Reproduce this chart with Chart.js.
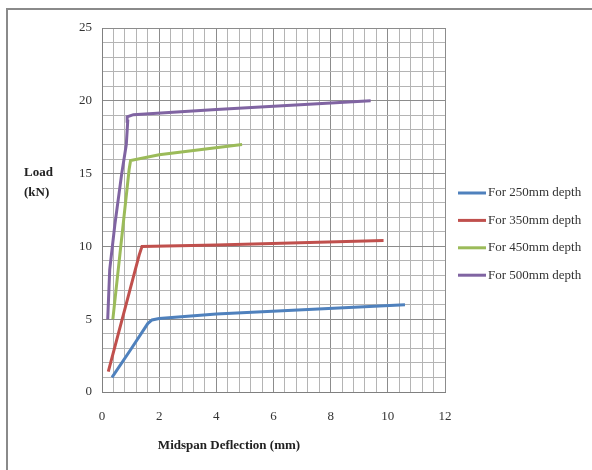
<!DOCTYPE html>
<html>
<head>
<meta charset="utf-8">
<script src="https://cdn.jsdelivr.net/npm/chart.js@4.4.0/dist/chart.umd.min.js"></script>
<style>
  html, body { margin: 0; padding: 0; background: #fff; }
  .container { width: 592px; height: 470px; position: relative; }
  canvas { display: block; }
</style>
</head>
<body>
<div class="container"><canvas id="chart" width="592" height="470"></canvas></div>
<script>
// series (x = midspan deflection mm, y = load kN)
const seriesLabels = ['For 250mm depth', 'For 350mm depth', 'For 450mm depth', 'For 500mm depth'];
const seriesColors = ['#4F81BD', '#C0504D', '#9BBB59', '#8064A2'];

const d250X = [0.35, 1.0, 1.6, 1.75, 2.0, 4.0, 10.6];
const d250Y = [1.0, 2.9, 4.7, 4.95, 5.05, 5.35, 6.0];

const d350X = [0.22, 1.3, 1.4, 4.0, 9.85];
const d350Y = [1.4, 9.4, 10.0, 10.1, 10.4];

const d450X = [0.38, 0.95, 1.0, 2.0, 4.9];
const d450Y = [5.0, 15.3, 15.9, 16.3, 17.0];

const d500X = [0.2, 0.27, 0.45, 0.69, 0.85, 0.9, 0.88, 1.1, 4.0, 9.4];
const d500Y = [5.0, 8.4, 11.5, 15.0, 17.0, 18.6, 18.9, 19.05, 19.4, 20.0];

const xTickLabels = ['0', '2', '4', '6', '8', '10', '12'];
const yTickLabels = ['0', '5', '10', '15', '20', '25'];

function toPoints(xs, ys) {
  return xs.map((x, i) => ({ x: x, y: ys[i] }));
}

const allX = [d250X, d350X, d450X, d500X];
const allY = [d250Y, d350Y, d450Y, d500Y];

const datasets = seriesLabels.map((label, i) => ({
  label: label,
  data: toPoints(allX[i], allY[i]),
  borderColor: seriesColors[i],
  borderWidth: 3,
  pointRadius: 0,
  tension: 0,
  fill: false
}));

function isLabelled(v, list) {
  return list.some(t => Math.abs(Number(t) - v) < 1e-6);
}

const frameAndText = {
  id: 'frameAndText',
  beforeDraw(chart) {
    const ctx = chart.ctx;
    ctx.save();
    ctx.fillStyle = '#fff';
    ctx.fillRect(0, 0, chart.width, chart.height);
    ctx.strokeStyle = '#8a8a8a';
    ctx.lineWidth = 2;
    ctx.beginPath();
    ctx.moveTo(7, chart.height);
    ctx.lineTo(7, 9);
    ctx.lineTo(chart.width, 9);
    ctx.stroke();
    ctx.restore();
  },
  afterDraw(chart) {
    const ctx = chart.ctx;
    ctx.save();
    // y title, horizontal on two lines
    ctx.fillStyle = '#222';
    ctx.font = 'bold 13px "Liberation Serif"';
    ctx.textAlign = 'left';
    ctx.textBaseline = 'middle';
    ctx.fillText('Load', 24, 173);
    ctx.fillText('(kN)', 24, 193);
    // x title
    ctx.textAlign = 'center';
    ctx.fillText('Midspan Deflection (mm)', 229, 446);
    // legend
    ctx.font = '13px "Liberation Serif"';
    ctx.textAlign = 'left';
    ctx.fillStyle = '#333';
    seriesLabels.forEach((label, i) => {
      const y = 193 + i * 27.4;
      ctx.strokeStyle = seriesColors[i];
      ctx.lineWidth = 3;
      ctx.beginPath();
      ctx.moveTo(458, y);
      ctx.lineTo(486, y);
      ctx.stroke();
      ctx.fillText(label, 488, y);
    });
    ctx.restore();
  }
};

const canvas = document.getElementById('chart');
const myChart = new Chart(canvas, {
  type: 'line',
  data: { datasets: datasets },
  plugins: [frameAndText],
  options: {
    responsive: false,
    animation: false,
    devicePixelRatio: 1,
    layout: { padding: { left: 0, right: 147, top: 28, bottom: 0 } },
    plugins: {
      legend: { display: false },
      tooltip: { enabled: false }
    },
    scales: {
      x: {
        type: 'linear',
        min: 0,
        max: 12,
        afterFit: (scale) => { scale.height = 78; },
        ticks: {
          stepSize: 0.4,
          autoSkip: false,
          maxRotation: 0,
          padding: 17,
          color: '#333',
          font: { family: '"Liberation Serif"', size: 13 },
          callback: (v) => isLabelled(v, xTickLabels) ? String(Math.round(v)) : ''
        },
        grid: {
          drawTicks: false,
          lineWidth: 1,
          color: (c) => isLabelled(c.tick.value, xTickLabels) ? '#8c8c8c' : '#b4b4b4'
        },
        border: { color: '#808080', width: 1 }
      },
      y: {
        type: 'linear',
        min: 0,
        max: 25,
        afterFit: (scale) => { scale.width = 102; },
        ticks: {
          stepSize: 1,
          autoSkip: false,
          padding: 10,
          color: '#333',
          font: { family: '"Liberation Serif"', size: 13 },
          callback: (v) => isLabelled(v, yTickLabels) ? String(v) : ''
        },
        grid: {
          drawTicks: false,
          lineWidth: 1,
          color: (c) => isLabelled(c.tick.value, yTickLabels) ? '#8c8c8c' : '#b4b4b4'
        },
        border: { color: '#808080', width: 1 }
      }
    }
  }
});
</script>
</body>
</html>
